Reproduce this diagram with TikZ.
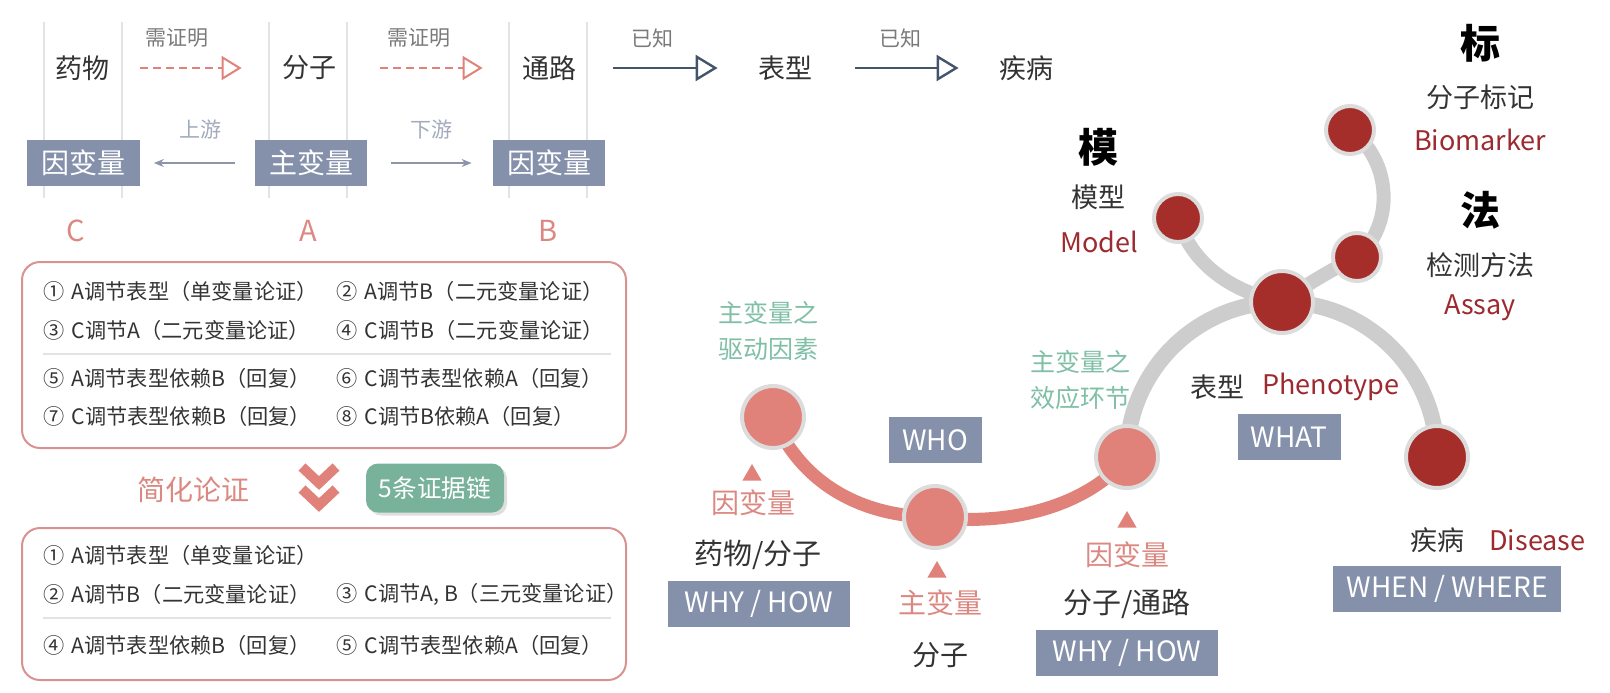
\documentclass[tikz,border=0pt]{standalone}
\usepackage{fontspec}
\setmainfont{Noto Sans CJK SC}
\usetikzlibrary{arrows.meta,positioning,shapes.geometric,backgrounds,shadows}
\definecolor{salmon}{HTML}{E0817A}
\definecolor{rosetext}{HTML}{DC8882}
\definecolor{frame}{HTML}{D9928F}
\definecolor{slate}{HTML}{44546A}
\definecolor{tag}{HTML}{8591AB}
\definecolor{wine}{HTML}{A52E2B}
\definecolor{winetext}{HTML}{9C2A2E}
\definecolor{mint}{HTML}{7FBFA6}
\definecolor{mintbox}{HTML}{78B29B}
\definecolor{ink}{HTML}{333333}
\definecolor{hintgray}{HTML}{7A7A7A}
\definecolor{ring}{HTML}{DCDCDC}
\definecolor{arcgray}{HTML}{CDCDCD}
\definecolor{rulegray}{HTML}{E3E3E3}
\definecolor{flow}{HTML}{8C95AA}
\definecolor{flowtext}{HTML}{A2AABD}
\newcommand{\fsz}[1]{\fontsize{#1}{#1}\selectfont}
\newcommand{\gap}{\hspace{3.5pt}}

\begin{document}
\begin{tikzpicture}[x=0.5pt, y=-0.5pt,
    every node/.style={inner sep=0pt, text=ink, font=\fsz{13.5}},
    hint/.style={text=hintgray, font=\fsz{10.5}},
    letter/.style={text=rosetext, font=\fsz{14.5}},
    rose/.style={text=rosetext, font=\fsz{14}},
    tagbox/.style={fill=tag, text=white, minimum height=23pt, font=\fsz{14}},
    entry/.style={anchor=west, font=\fsz{10.6}},
    greenlab/.style={text=mint, align=center, font=\fontsize{12.5}{18.3}\selectfont},
    brush/.style={text=black, font=\bfseries\fsz{20}},
    eng/.style={text=winetext},
    card/.style={draw=frame, line width=1pt, rounded corners=9pt},
    proof/.style={salmon, line width=1pt, dash pattern=on 4pt off 2.5pt, -{Triangle[open, length=10pt, width=12pt]}},
    known/.style={slate, line width=1.2pt, -{Triangle[open, length=11pt, width=13pt]}},
    flowarrow/.style={flow, line width=0.6pt, -{Stealth[length=5pt, width=4pt]}},
    pinkdot/.style={circle, fill=salmon, draw=ring, line width=2pt, minimum size=31pt},
    reddot/.style={circle, fill=wine, draw=ring, line width=2pt, minimum size=31pt},
    smalldot/.style={reddot, minimum size=24pt},
    pointer/.style={regular polygon, regular polygon sides=3, fill=salmon, minimum size=11pt},
    arcline/.style={arcgray, line width=8pt},
    branch/.style={arcgray, line width=7pt}]
  \useasboundingbox (0,0) rectangle (1610,692);

  \foreach \x in {44,122,269,347,509,587}
    \draw[rulegray, line width=0.6pt] (\x,22) -- (\x,198);

  \node (drug) at (82,68) {药物};
  \node (mol) at (309,68) {分子};
  \node (route) at (549,68) {通路};
  \node (phen) at (785,68) {表型};
  \node (ill) at (1026,68) {疾病};
  \node[hint] (need1) at (177,38) {需证明};
  \node[hint] (need2) at (419,38) {需证明};
  \node[hint] (kn1) at (652,38) {已知};
  \node[hint] (kn2) at (900,38) {已知};
  \draw[proof, shorten <=15.5pt, shorten >=20pt] (drug) -- (mol);
  \draw[proof, shorten <=22pt, shorten >=19.5pt] (mol) -- (route);
  \draw[known, shorten <=18.5pt, shorten >=20pt] (route) -- (phen);
  \draw[known, shorten <=21.5pt, shorten >=20pt] (phen) -- (ill);

  \node[tagbox, minimum width=56.5pt] (cvar) at (83,163) {因变量};
  \node[tagbox, minimum width=56pt] (avar) at (311,163) {主变量};
  \node[tagbox, minimum width=56pt] (bvar) at (549,163) {因变量};
  \node[hint, text=flowtext] (up) at (200,130) {上游};
  \node[hint, text=flowtext] (down) at (431,130) {下游};
  \draw[flowarrow, shorten <=10pt, shorten >=7pt] (avar) -- (cvar);
  \draw[flowarrow, shorten <=12pt, shorten >=10.5pt] (avar) -- (bvar);
  \node[letter] (lc) at (76,231) {C};
  \node[letter] (la) at (308,231) {A};
  \node[letter] (lb) at (548,231) {B};

  \draw[card] (22,262) rectangle (626,448);
  \draw[rulegray, line width=0.8pt] (43,354) -- (611,354);
  \foreach \px/\py/\t [count=\n] in {43/291/{①\gap A调节表型（单变量论证）}, 336/291/{②\gap A调节B（二元变量论证）},
      43/330/{③\gap C调节A（二元变量论证）}, 336/330/{④\gap C调节B（二元变量论证）},
      43/378/{⑤\gap A调节表型依赖B（回复）}, 336/378/{⑥\gap C调节表型依赖A（回复）},
      43/416/{⑦\gap C调节表型依赖B（回复）}, 336/416/{⑧\gap C调节B依赖A（回复）}}
    \node[entry] (full\n) at (\px,\py) {\t};

  \node[rose] (simp) at (193,490) {简化论证};
  \draw[salmon, line width=5pt] (302,467) -- (319,483) -- (336,467);
  \draw[salmon, line width=5pt] (302,489) -- (319,505) -- (336,489);
  \node[fill=mintbox, text=white, rounded corners=6pt, minimum width=69pt, minimum height=24.5pt,
    font=\fsz{12.3}, drop shadow={shadow xshift=1.5pt, shadow yshift=-1.5pt, opacity=0.25}] (chain) at (435,488) {5条证据链};

  \draw[card] (22,528) rectangle (626,680);
  \draw[rulegray, line width=0.8pt] (43,618) -- (611,618);
  \foreach \px/\py/\t [count=\n] in {43/555/{①\gap A调节表型（单变量论证）},
      43/594/{②\gap A调节B（二元变量论证）}, 336/594/{③\gap C调节A, B（三元变量论证）},
      43/645/{④\gap A调节表型依赖B（回复）}, 336/645/{⑤\gap C调节表型依赖A（回复）}}
    \node[entry] (short\n) at (\px,\py) {\t};

  \node[pinkdot] (drv) at (773,417) {};
  \node[pinkdot] (hub) at (935,517) {};
  \node[pinkdot] (eff) at (1127,457) {};
  \node[reddot] (core) at (1282,302) {};
  \node[reddot] (dis) at (1437,457) {};
  \node[smalldot] (mdl) at (1178,218) {};
  \node[smalldot] (asy) at (1357,257) {};
  \node[smalldot] (bio) at (1350,130) {};
  \begin{scope}[on background layer]
    \draw[salmon, line width=6.5pt] (drv.center) .. controls (800,482) and (860,517) .. (hub.center)
      .. controls (1010,527) and (1090,505) .. (eff.center);
    \draw[arcline] (eff.center) arc[start angle=180, end angle=0, radius=77.5pt];
    \draw[branch] (core.center) .. controls (1230,292) and (1190,262) .. (mdl.center);
    \draw[branch] (core.center) .. controls (1310,282) and (1335,268) .. (asy.center);
    \draw[branch] (asy.center) .. controls (1395,225) and (1392,160) .. (bio.center);
  \end{scope}

  \node[greenlab] (drvlab) at (768,331) {主变量之\\驱动因素};
  \node[greenlab] (efflab) at (1080,380) {主变量之\\效应环节};
  \node[pointer] (tri1) at (752,475) {};
  \node[rose] (dep1) at (753,503) {因变量};
  \node[font=\fsz{14.5}] (drugmol) at (758,555) {药物/分子};
  \node[tagbox, minimum width=91pt] (why1) at (759,604) {WHY / HOW};
  \node[tagbox, minimum width=46.5pt] (who) at (935,440) {WHO};
  \node[pointer] (tri2) at (937,572) {};
  \node[rose] (mainv) at (940,603) {主变量};
  \node[font=\fsz{14}] (mol2) at (940,655) {分子};
  \node[pointer] (tri3) at (1127,522) {};
  \node[rose] (dep2) at (1127,555) {因变量};
  \node[font=\fsz{14.5}] (molroute) at (1127,604) {分子/通路};
  \node[tagbox, minimum width=91pt] (why2) at (1127,653) {WHY / HOW};

  \node (phencn) at (1217,387) {表型};
  \node[eng, anchor=west] (phenen) at (1262,387) {Phenotype};
  \node[tagbox, minimum width=51.5pt] (what) at (1289,437) {WHAT};
  \node (illcn) at (1437,540) {疾病};
  \node[eng, anchor=west] (illen) at (1489,540) {Disease};
  \node[tagbox, minimum width=114pt] (when) at (1447,589) {WHEN / WHERE};

  \node[brush] (mo) at (1098,147) {模};
  \node (mdlcn) at (1098,197) {模型};
  \node[eng] (mdlen) at (1099,242) {Model};
  \node[brush] (biao) at (1480,43) {标};
  \node (biocn) at (1480,97) {分子标记};
  \node[eng] (bioen) at (1480,140) {Biomarker};
  \node[brush] (fa) at (1480,210) {法};
  \node (asycn) at (1480,265) {检测方法};
  \node[eng] (asyen) at (1480,308) {Assay};
\end{tikzpicture}
\end{document}
